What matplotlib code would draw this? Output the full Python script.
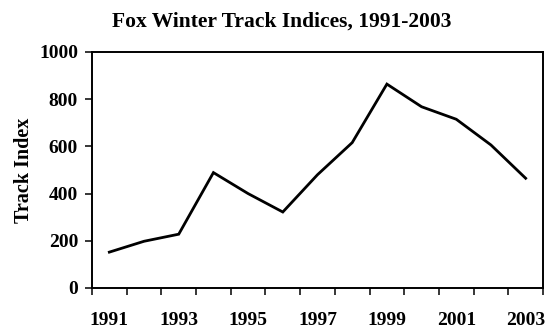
import numpy as np
import matplotlib.pyplot as plt

years = [1991, 1992, 1993, 1994, 1995, 1996, 1997, 1998, 1999, 2000, 2001, 2002, 2003]
track_index = [152, 198, 228, 489, 400, 322, 480, 616, 864, 768, 715, 606, 465]
year_labels = ["1991", "1993", "1995", "1997", "1999", "2001", "2003"]

plt.rcParams["font.family"] = ["Liberation Serif", "DejaVu Serif"]
plt.rcParams["font.weight"] = "bold"

fig = plt.figure(figsize=(5.49, 3.29), dpi=100)
ax = fig.add_axes([92 / 549, 1 - 288 / 329, 451 / 549, 236 / 329])

pos = np.arange(len(years))
ax.plot(pos, track_index, color="black", lw=2.0, solid_joinstyle="miter")

ax.set_xlim(-0.5, len(years) - 0.5)
ax.set_ylim(0, 1000)

# category boundaries get the tick marks, every other year gets a label
ax.set_xticks(np.arange(-0.5, len(years), 1))
ax.set_xticklabels([])
ax.set_xticks(pos[::2], minor=True)
ax.set_xticklabels(year_labels, minor=True, fontsize=14, fontweight="bold")
ax.tick_params(axis="x", which="major", direction="out", length=5, width=1.1)
ax.tick_params(axis="x", which="minor", length=0, pad=17)

ax.set_yticks(np.arange(0, 1001, 200))
ax.set_yticklabels([str(v) for v in range(0, 1001, 200)], fontsize=14, fontweight="bold")
ax.tick_params(axis="y", direction="out", length=5, width=1.1, pad=5)

for s in ax.spines.values():
    s.set_linewidth(1.4)

ax.set_ylabel("Track Index", fontsize=14.5, fontweight="bold")
ax.yaxis.set_label_coords(-0.128, 0.5)
ax.yaxis.label.set_va("bottom")
fig.text(282 / 549, 1 - 22 / 329, "Fox Winter Track Indices, 1991-2003",
         ha="center", va="center", fontsize=15.5, fontweight="bold")

fig.savefig("out.png", dpi=100)
